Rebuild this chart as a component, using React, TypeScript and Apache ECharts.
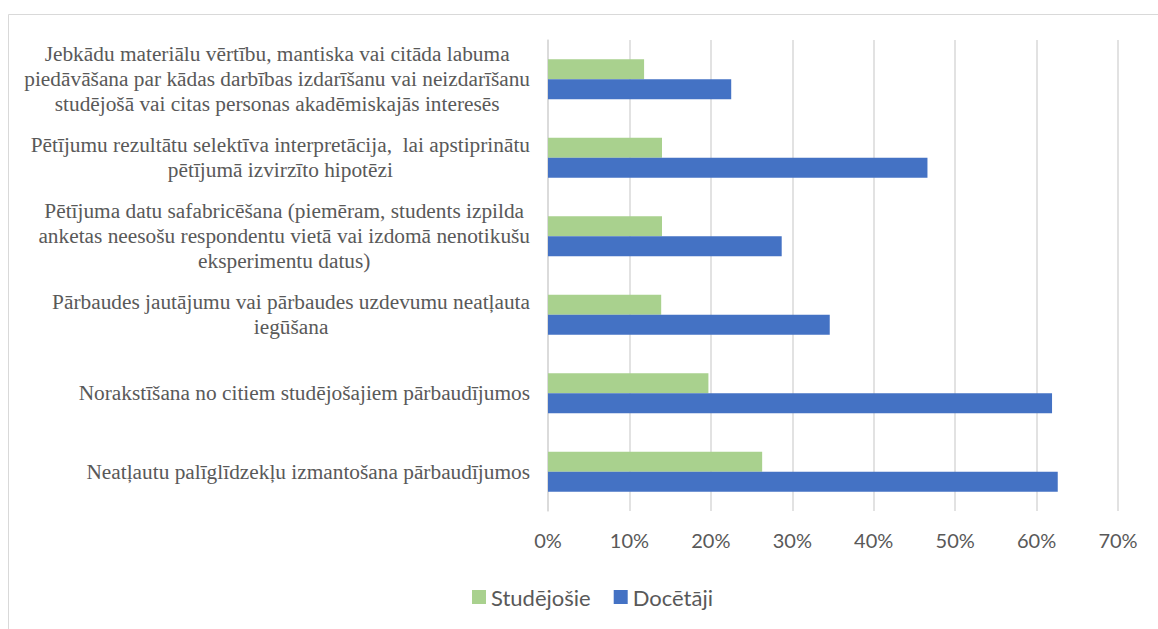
import React, { useEffect, useRef } from "react";
import * as echarts from "echarts";

const categories: string[] = [
  "Jebkādu materiālu vērtību, mantiska vai citāda labuma\npiedāvāšana par kādas darbības izdarīšanu vai neizdarīšanu\nstudējošā vai citas personas akadēmiskajās interesēs",
  "Pētījumu rezultātu selektīva interpretācija,  lai apstiprinātu\npētījumā izvirzīto hipotēzi",
  "Pētījuma datu safabricēšana (piemēram, students izpilda\nanketas neesošu respondentu vietā vai izdomā nenotikušu\neksperimentu datus)",
  "Pārbaudes jautājumu vai pārbaudes uzdevumu neatļauta\niegūšana",
  "Norakstīšana no citiem studējošajiem pārbaudījumos",
  "Neatļautu palīglīdzekļu izmantošana pārbaudījumos",
];

const studejosie: number[] = [11.8, 14.0, 14.0, 13.9, 19.7, 26.3];
const docetaji: number[] = [22.5, 46.6, 28.7, 34.6, 61.9, 62.6];

const seriesNames: string[] = ["Studējošie", "Docētāji"];
const xTicks = { min: 0, max: 70, interval: 10 };

const GRID_COLOR = "#d9d9d9";
const TEXT_COLOR = "#595959";
const SERIF = "Liberation Serif";
const LABEL_SIZE = 21.33;

export default function App() {
  const ref = useRef<HTMLDivElement>(null);

  useEffect(() => {
    if (!ref.current) return;
    const chart = echarts.init(ref.current, undefined, { renderer: "svg" });
    chart.setOption({
      animation: false,
      backgroundColor: "#ffffff",
      textStyle: { fontFamily: SERIF, color: TEXT_COLOR },
      graphic: [
        {
          type: "rect",
          left: 6,
          top: 12,
          shape: { x: 0, y: 0, width: 1170, height: 640 },
          style: { fill: "none", stroke: GRID_COLOR, lineWidth: 1 },
          silent: true,
          z: -1,
        },
      ],
      grid: { left: 548, right: 40, top: 40, height: 471, containLabel: false },
      legend: {
        data: seriesNames,
        left: 472,
        top: 586,
        padding: 0,
        icon: "rect",
        itemWidth: 14,
        itemHeight: 14,
        itemGap: 23,
        textStyle: { fontFamily: "Lato", fontSize: 22, color: TEXT_COLOR },
      },
      xAxis: {
        type: "value",
        min: xTicks.min,
        max: xTicks.max,
        interval: xTicks.interval,
        axisLine: { show: false },
        axisTick: { show: false },
        splitLine: { show: true, lineStyle: { color: GRID_COLOR, width: 1.5 } },
        axisLabel: {
          formatter: "{value}%",
          fontFamily: "Lato",
          fontSize: 20,
          color: TEXT_COLOR,
          margin: 19,
        },
      },
      yAxis: {
        type: "category",
        inverse: true,
        data: categories,
        axisLine: { show: true, lineStyle: { color: GRID_COLOR, width: 1.5 } },
        axisTick: { show: false },
        axisLabel: {
          align: "right",
          margin: 18,
          fontFamily: SERIF,
          fontSize: LABEL_SIZE,
          lineHeight: 25,
          color: TEXT_COLOR,
          formatter: (v: string) =>
            v
              .split("\n")
              .map((l) => `{c|${l}}`)
              .join("\n"),
          rich: {
            c: {
              fontFamily: SERIF,
              fontSize: LABEL_SIZE,
              lineHeight: 25,
              color: TEXT_COLOR,
              align: "center",
            },
          },
        },
      },
      series: [
        {
          name: seriesNames[0],
          type: "bar",
          data: studejosie,
          barWidth: 20,
          barGap: "0%",
          itemStyle: { color: "#A9D18E" },
        },
        {
          name: seriesNames[1],
          type: "bar",
          data: docetaji,
          barWidth: 20,
          barGap: "0%",
          itemStyle: { color: "#4472C4" },
        },
      ],
    });
    return () => chart.dispose();
  }, []);

  return (
    <div
      ref={ref}
      style={{ position: "fixed", left: 0, top: 0, width: 1158, height: 629 }}
    />
  );
}
